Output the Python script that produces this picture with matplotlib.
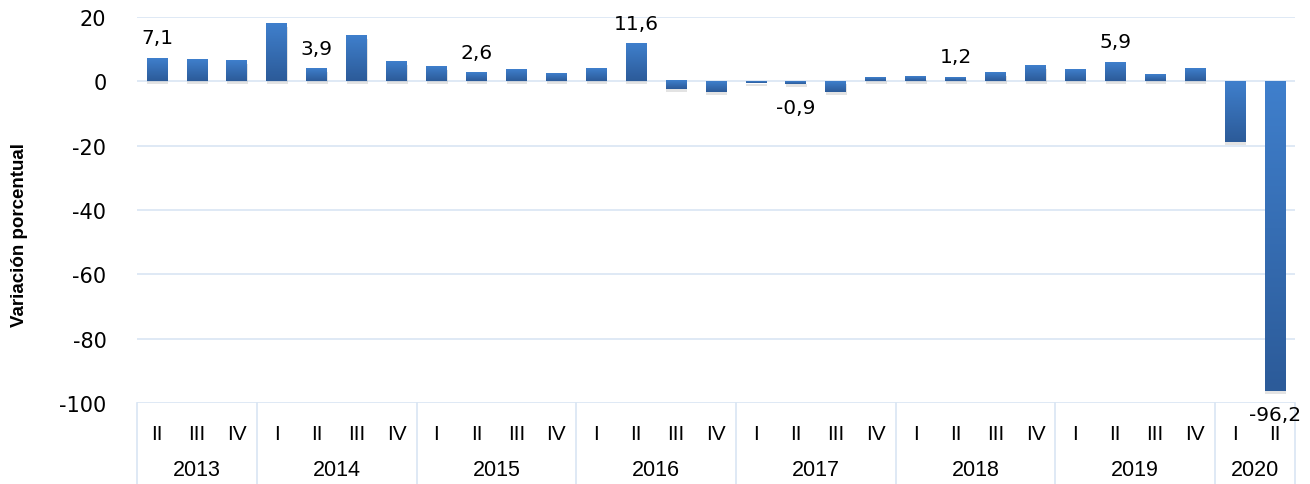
import numpy as np
import matplotlib
matplotlib.use('Agg')
from matplotlib import pyplot as plt
from matplotlib import patheffects
from matplotlib.colors import LinearSegmentedColormap
import matplotlib.transforms as mtransforms

plt.rcParams['axes.unicode_minus'] = False

# datos: variación porcentual trimestral
years = ['2013', '2014', '2015', '2016', '2017', '2018', '2019', '2020']
quarters_per_year = [3, 4, 4, 4, 4, 4, 4, 2]
quarters = ['II', 'III', 'IV',
            'I', 'II', 'III', 'IV',
            'I', 'II', 'III', 'IV',
            'I', 'II', 'III', 'IV',
            'I', 'II', 'III', 'IV',
            'I', 'II', 'III', 'IV',
            'I', 'II', 'III', 'IV',
            'I', 'II']
values = [7.1, 6.8, 6.3,
          17.8, 3.9, 14.1, 6.0,
          4.4, 2.6, 3.5, 2.2,
          3.8, 11.6, -2.5, -3.4,
          -0.5, -0.9, -3.4, 1.0,
          1.4, 1.2, 2.6, 4.8,
          3.5, 5.9, 2.0, 3.8,
          -18.9, -96.2]
labeled = [0, 4, 8, 12, 16, 20, 24, 28]  # barras con etiqueta

grid_col = '#D9E5F3'
W, H = 1310, 485
fig = plt.figure(figsize=(W / 100, H / 100), dpi=100)
ax = fig.add_axes([137 / W, 81 / H, 1158 / W, 386 / H])

x = np.arange(len(values))
bars = ax.bar(x, values, width=0.52, color='#3670B8', zorder=3,
              path_effects=[patheffects.SimplePatchShadow(offset=(0.5, -2), shadow_rgbFace='#909090', alpha=0.25),
                            patheffects.Normal()])

# degradado en cada barra
cmap = LinearSegmentedColormap.from_list('azul', ['#3F7FCC', '#2C5B99'])
grad = np.linspace(0, 1, 64).reshape(-1, 1)
for b in bars:
    x0 = b.get_x()
    x1 = x0 + b.get_width()
    y0 = min(b.get_y(), b.get_y() + b.get_height())
    y1 = max(b.get_y(), b.get_y() + b.get_height())
    ax.imshow(grad, cmap=cmap, extent=(x0, x1, y0, y1), aspect='auto', zorder=4, interpolation='bilinear')

ax.set_xlim(-0.5, len(values) - 0.5)
ax.set_ylim(-100, 20)
ax.set_yticks(np.arange(-100, 21, 20))
ax.yaxis.grid(True, color=grid_col, linewidth=1.2, zorder=0)
ax.set_axisbelow(True)
for s in ax.spines.values():
    s.set_visible(False)
ax.tick_params(axis='y', length=0, pad=22, labelsize=15)
for t in ax.get_yticklabels():
    t.set_fontfamily('DejaVu Sans')

# etiquetas de valor
for i in labeled:
    v = values[i]
    txt = ('%.1f' % v).replace('.', ',')
    if v >= 0:
        ax.annotate(txt, (x[i], v), xytext=(0, 8), textcoords='offset points',
                    ha='center', va='bottom', fontsize=14.5, family='DejaVu Sans', zorder=6)
    else:
        ax.annotate(txt, (x[i], v), xytext=(0, -10), textcoords='offset points',
                    ha='center', va='top', fontsize=14.5, family='DejaVu Sans', zorder=6)

# eje x con dos niveles
ax.set_xticks(x)
ax.set_xticklabels(quarters, fontsize=15, family='Liberation Sans')
ax.tick_params(axis='x', length=0, pad=15)

trans = mtransforms.blended_transform_factory(ax.transData, ax.transAxes)
bounds = np.concatenate([[0], np.cumsum(quarters_per_year)]) - 0.5
for b in bounds:
    ax.plot([b, b], [0, -0.22], transform=trans, color=grid_col, lw=1.2, clip_on=False)
for k, yr in enumerate(years):
    mid = (bounds[k] + bounds[k + 1]) / 2
    ax.text(mid, -0.172, yr, transform=trans, ha='center', va='center', fontsize=15.5, family='Liberation Sans')

fig.text(20 / W, 0.515, 'Variación porcentual', rotation=90, ha='center', va='center',
         fontsize=13.5, fontweight='bold', family=['Liberation Sans Narrow', 'Liberation Sans'])

fig.savefig('out.png', dpi=100)
